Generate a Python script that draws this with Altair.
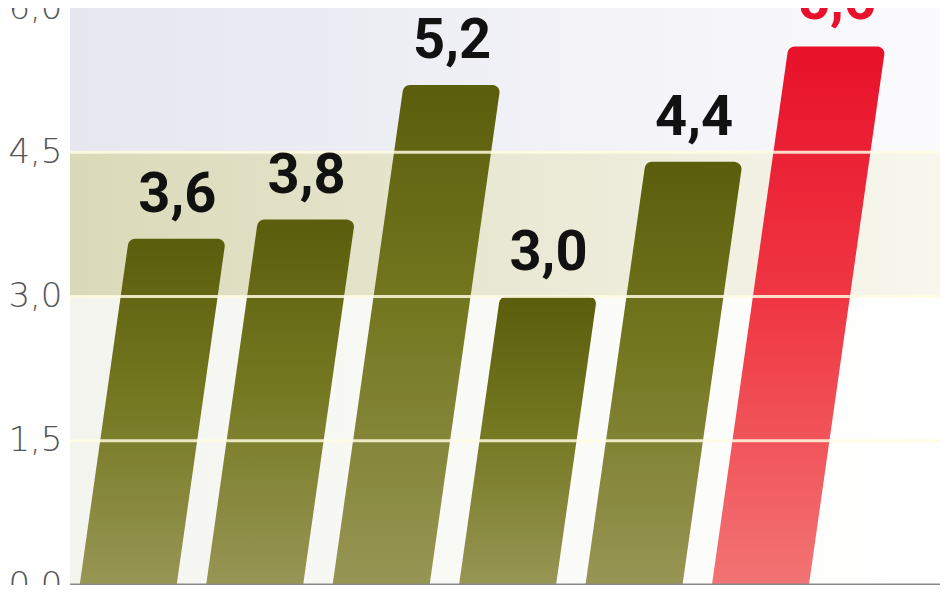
import altair as alt
import pandas as pd

# ---- data ----
categories = ["b1", "b2", "b3", "b4", "b5", "b6"]
values = [3.6, 3.8, 5.2, 3.0, 4.4, 5.6]
value_labels = ["3,6", "3,8", "5,2", "3,0", "4,4", "5,6"]
highlight = ["base", "base", "base", "base", "base", "hi"]
y_ticks = [0.0, 1.5, 3.0, 4.5, 6.0]
grid_values = [1.5, 3.0, 4.5]
band_lo = [0.0, 3.0, 4.5]
band_hi = [3.0, 4.5, 6.0]

# ---- geometry/style ----
SHEAR = 0.108   # horizontal lean per unit of value (in slot units)
HALF = 0.383    # half bar width (in slot units)
ROUND_PX = 7    # corner radius produced by a round-joined stroke
PX_X = 870 / 6.88
PX_Y = 577 / 6.0
band_colors = [("#f4f4ef", "#ffffff"), ("#dad9b8", "#f8f7ee"), ("#e5e6ef", "#fbfbfd")]

rows = []
for i, (c, v, h) in enumerate(zip(categories, values, highlight)):
    top = v - ROUND_PX / PX_Y
    hw = HALF - ROUND_PX / PX_X
    for yy in (0.0, top):
        xc = i + SHEAR * yy
        rows.append(dict(cat=c, y=yy, xl=xc - hw, xr=xc + hw, hl=h))
bars = pd.DataFrame(rows)

tops = pd.DataFrame(dict(
    cat=categories,
    v=values,
    xt=[i + SHEAR * v for i, v in enumerate(values)],
    label=value_labels,
    hl=highlight,
))

yscale = alt.Scale(domain=[0, 6], nice=False, zero=True)
xscale = alt.Scale(domain=[-0.46, 6.42], nice=False, zero=False)

yaxis = alt.Axis(
    values=y_ticks,
    labelExpr="replace(format(datum.value, '.1f'), '.', ',')",
    title=None, grid=False, domain=False, ticks=False, tickSize=0,
    labelPadding=8, labelFontSize=34, labelFont="DejaVu Sans",
    labelFontWeight=200, labelColor="#555555", labelOverlap=False,
    labelFlush=False,
)


def Y(field):
    return alt.Y(field, scale=yscale, axis=yaxis, title=None)


layers = []
for lo, hi, (cl, cr) in zip(band_lo, band_hi, band_colors):
    bdf = pd.DataFrame(dict(lo=[lo], hi=[hi]))
    layers.append(
        alt.Chart(bdf).mark_rect(
            color=alt.Gradient(gradient="linear", x1=0, x2=1, y1=0, y2=0,
                               stops=[alt.GradientStop(color=cl, offset=0),
                                      alt.GradientStop(color=cr, offset=1)])
        ).encode(y=Y("lo:Q"), y2="hi:Q")
    )

olive = alt.Gradient(gradient="linear", x1=0, x2=0, y1=0, y2=1,
                     stops=[alt.GradientStop(color="#5b5f0d", offset=0),
                            alt.GradientStop(color="#747820", offset=0.45),
                            alt.GradientStop(color="#979655", offset=1)])
red = alt.Gradient(gradient="linear", x1=0, x2=0, y1=0, y2=1,
                   stops=[alt.GradientStop(color="#e8122b", offset=0),
                          alt.GradientStop(color="#f03a45", offset=0.5),
                          alt.GradientStop(color="#f27474", offset=1)])

for key, grad in (("base", olive), ("hi", red)):
    layers.append(
        alt.Chart(bars[bars.hl == key]).mark_area(
            orient="horizontal", fill=grad, stroke=grad,
            strokeWidth=2 * ROUND_PX, strokeJoin="round"
        ).encode(
            y=Y("y:Q"),
            x=alt.X("xl:Q", scale=xscale, axis=None, stack=None),
            x2="xr:Q",
            detail="cat:N",
        )
    )

layers.append(
    alt.Chart(pd.DataFrame(dict(g=grid_values))).mark_rule(
        color="#fffbe0", strokeWidth=3, opacity=0.85
    ).encode(y=Y("g:Q"))
)
layers.append(
    alt.Chart(pd.DataFrame(dict(g=[0.0]))).mark_rule(
        color="#8a8a8a", strokeWidth=3
    ).encode(y=Y("g:Q"))
)
layers.append(
    alt.Chart(tops).mark_text(
        font="Roboto", fontSize=56, fontWeight="bold", baseline="alphabetic", dy=-27
    ).encode(
        x=alt.X("xt:Q", scale=xscale, axis=None),
        y=Y("v:Q"),
        text="label:N",
        color=alt.Color("hl:N", scale=alt.Scale(domain=["base", "hi"], range=["#111111", "#e8102a"]), legend=None),
    )
)

chart = alt.layer(*layers).properties(
    width=870, height=577,
    autosize=alt.AutoSizeParams(type="none"),
    padding={"left": 62, "top": 0, "right": 0, "bottom": 0},
    background="white",
).configure_view(stroke=None)

chart.save("out.html", embed_options={"renderer": "svg", "actions": False})
